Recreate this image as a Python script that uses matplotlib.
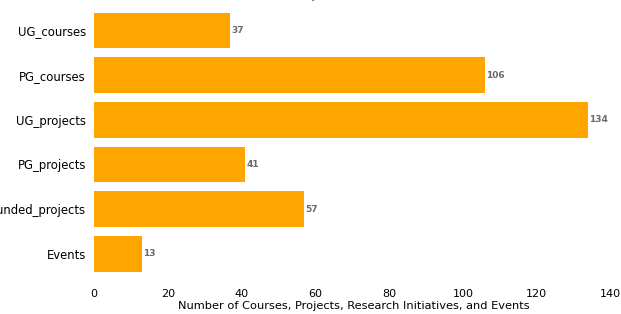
import matplotlib.pyplot as plt

categories = ['UG_courses', 'PG_courses', 'UG_projects', 'PG_projects', 'Funded_projects', 'Events']
counts = [37, 106, 134, 41, 57, 13]

fig = plt.figure(figsize=(6.21, 3.14), dpi=100)
# the picture is a crop: title sits above the top edge, long labels run off the left
ax = fig.add_axes([94 / 621, 0.094, 519 / 621, 0.907])

bars = ax.barh(categories, counts, color='orange')
ax.invert_yaxis()

for bar, val in zip(bars, counts):
    ax.text(bar.get_width() + 0.3, bar.get_y() + bar.get_height() / 2, str(val),
            va='center', ha='left', fontsize=6.5, fontweight='bold', color='dimgray')

for side in ['top', 'right', 'left', 'bottom']:
    ax.spines[side].set_visible(False)
ax.tick_params(axis='y', length=0, labelsize=8.4, pad=5.8)
ax.tick_params(axis='x', length=0, labelsize=8, pad=3.5)
ax.set_xticks([0, 20, 40, 60, 80, 100, 120, 140])
ax.set_xlabel('Number of Courses, Projects, Research Initiatives, and Events', fontsize=8.2, labelpad=1.5)

fig.text(353.5 / 621, 1 - 0.6 / 314, 'Distribution of Courses, Projects, Research Initiatives, and Events',
         ha='center', va='bottom', fontsize=11, color='#777777')

fig.savefig('out.png', dpi=100)
